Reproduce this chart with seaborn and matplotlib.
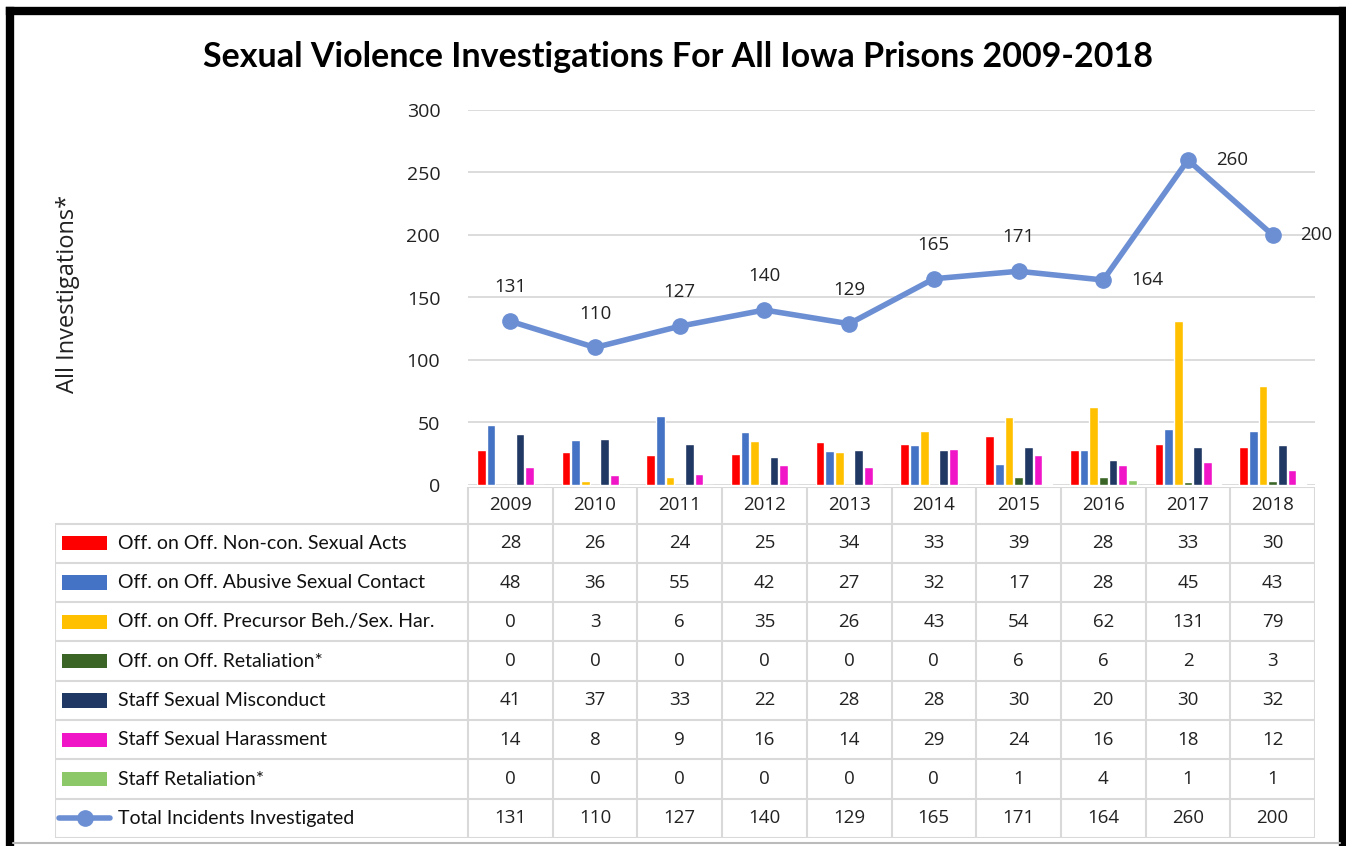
import matplotlib
matplotlib.use("Agg")
import matplotlib.pyplot as plt
from matplotlib.patches import Rectangle
from matplotlib.lines import Line2D
import seaborn as sns
import pandas as pd

sns.set_theme(style="white")
plt.rcParams['font.family'] = ['Open Sans', 'DejaVu Sans']

# Data
years = ["2009", "2010", "2011", "2012", "2013", "2014", "2015", "2016", "2017", "2018"]
series = [
    "Off. on Off. Non-con. Sexual Acts",
    "Off. on Off. Abusive Sexual Contact",
    "Off. on Off. Precursor Beh./Sex. Har.",
    "Off. on Off. Retaliation*",
    "Staff Sexual Misconduct",
    "Staff Sexual Harassment",
    "Staff Retaliation*",
]
non_con = [28, 26, 24, 25, 34, 33, 39, 28, 33, 30]
abusive = [48, 36, 55, 42, 27, 32, 17, 28, 45, 43]
precursor = [0, 3, 6, 35, 26, 43, 54, 62, 131, 79]
off_retal = [0, 0, 0, 0, 0, 0, 6, 6, 2, 3]
staff_misc = [41, 37, 33, 22, 28, 28, 30, 20, 30, 32]
staff_har = [14, 8, 9, 16, 14, 29, 24, 16, 18, 12]
staff_retal = [0, 0, 0, 0, 0, 0, 1, 4, 1, 1]
total = [131, 110, 127, 140, 129, 165, 171, 164, 260, 200]
total_label = "Total Incidents Investigated"

colors = ["#FF0000", "#4472C4", "#FFC000", "#3B6427", "#203864", "#F016C8", "#8CC868"]
line_color = "#6C8FD4"

values = [non_con, abusive, precursor, off_retal, staff_misc, staff_har, staff_retal]
df = pd.DataFrame(
    [(y, s, v[i]) for s, v in zip(series, values) for i, y in enumerate(years)],
    columns=["year", "series", "value"],
)

W, H = 1346, 846
fig = plt.figure(figsize=(W / 100, H / 100), dpi=100)


def px_axes(x0, y0, x1, y1):
    return fig.add_axes([x0 / W, 1 - y1 / H, (x1 - x0) / W, (y1 - y0) / H])


# Main chart
ax = px_axes(468, 110, 1315, 485)
sns.barplot(data=df, x="year", y="value", hue="series", hue_order=series,
            order=years, palette=colors, width=0.8, gap=0.1, ax=ax,
            legend=False, saturation=1)
ax.plot(range(len(years)), total, color=line_color, linewidth=4,
        marker="o", markersize=11, zorder=5)

for i, v in enumerate(total):
    if years[i] in ("2016", "2017", "2018"):
        ax.annotate(str(v), (i, v), xytext=(20, 0), textcoords="offset points",
                    ha="left", va="center", fontsize=13.5, color="#222222")
    else:
        ax.annotate(str(v), (i, v), xytext=(0, 18), textcoords="offset points",
                    ha="center", va="bottom", fontsize=13.5, color="#222222")

ax.set_ylim(0, 300)
ax.set_xlim(-0.5, len(years) - 0.5)
ax.set_yticks(range(0, 301, 50))
ax.yaxis.grid(True, color="#D9D9D9", linewidth=1.3)
ax.set_axisbelow(True)
ax.set_xticks([])
ax.set_xlabel("")
ax.set_ylabel("")
for sp in ax.spines.values():
    sp.set_visible(False)
ax.tick_params(axis="y", labelsize=14, colors="#222222", pad=20, length=0)

fig.text(68 / W, 1 - 294 / H, "All Investigations*", rotation=90,
         ha="center", va="center", fontsize=17, color="#222222")

fig.text(678 / W, 1 - 57 / H,
         "Sexual Violence Investigations For All Iowa Prisons 2009-2018",
         ha="center", va="center", fontsize=24.5, fontweight="bold",
         family=["Lato", "DejaVu Sans"], color="black")

# Data table
tab = px_axes(55, 487, 1315, 838)
label_w = (468 - 55) / ((1315 - 468) / len(years))
head_h = 0.93
tab.set_xlim(-0.5 - label_w, len(years) - 0.5)
tab.set_ylim(8.5, 0.5 - head_h)
tab.axis("off")
grid_kw = dict(color="#D9D9D9", linewidth=1.5)
left = -0.5 - label_w
right = len(years) - 0.5
tab.plot([-0.5, right], [0.5 - head_h, 0.5 - head_h], **grid_kw)
for k in range(9):
    tab.plot([left, right], [k + 0.5, k + 0.5], **grid_kw)
for j in range(len(years) + 1):
    tab.plot([j - 0.5, j - 0.5], [0.5 - head_h, 8.5], **grid_kw)
tab.plot([left, left], [0.5, 8.5], **grid_kw)

for j, y in enumerate(years):
    tab.text(j, 0.5 - head_h / 2, y, ha="center", va="center", fontsize=13.5,
             color="#222222")

unit = (1315 - 468) / len(years)
key_x = left + (62 - 55) / unit
key_w = 45 / unit
text_x = left + (118 - 55) / unit
rows = series + [total_label]
all_vals = values + [total]
for r, (name, vals) in enumerate(zip(rows, all_vals), start=1):
    if r <= len(series):
        tab.add_patch(Rectangle((key_x, r - 0.18), key_w, 0.36,
                                color=colors[r - 1], lw=0))
    else:
        tab.add_line(Line2D([key_x - 0.04, key_x + key_w + 0.04], [r, r],
                            color=line_color, linewidth=4))
        tab.plot([key_x + key_w / 2], [r], marker="o", color=line_color,
                 markersize=11)
    tab.text(text_x, r, name, ha="left", va="center", fontsize=14,
             family=["Lato", "DejaVu Sans"], color="#111111")
    for j, v in enumerate(vals):
        tab.text(j, r, str(v), ha="center", va="center", fontsize=13.5,
                 color="#222222")

# Outer frame: black left/top/right, thin grey bottom
frame_kw = dict(transform=fig.transFigure, color="black", linewidth=6,
                solid_capstyle="projecting")
fig.lines.append(Line2D([10 / W, 10 / W], [0, 1 - 11 / H], **frame_kw))
fig.lines.append(Line2D([10 / W, 1343 / W], [1 - 11 / H, 1 - 11 / H], **frame_kw))
fig.lines.append(Line2D([1343 / W, 1343 / W], [0, 1 - 11 / H], **frame_kw))
fig.lines.append(Line2D([13 / W, 1340 / W], [1 - 843 / H, 1 - 843 / H],
                        transform=fig.transFigure, color="#BBBBBB", linewidth=1.5))

fig.savefig("out.png", dpi=100)
